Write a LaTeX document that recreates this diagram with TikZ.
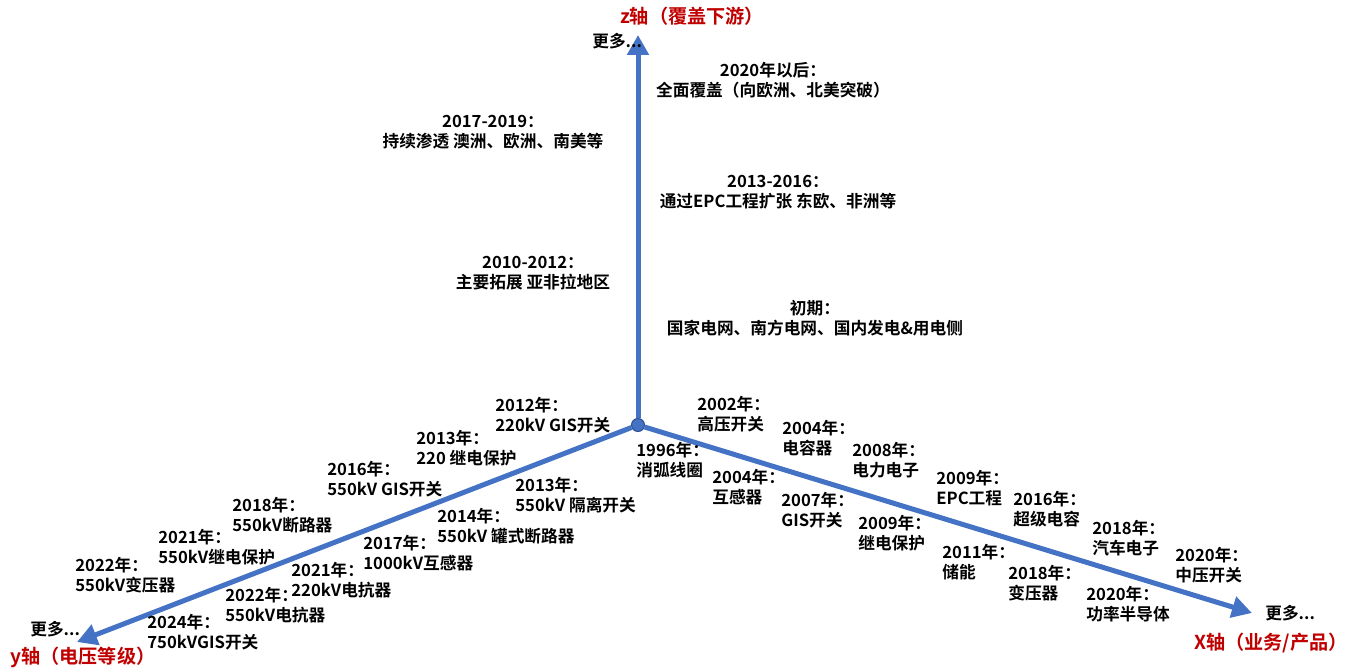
\documentclass[tikz,border=0pt]{standalone}
\usepackage{fontspec}
\setmainfont{Noto Sans CJK SC}[BoldFont={* Bold}]
\usepackage{xcolor}
\usepackage{tikz}
\usetikzlibrary{arrows.meta}
\definecolor{axisblue}{RGB}{68,114,196}
\definecolor{dotblue}{RGB}{47,82,143}
\definecolor{axisred}{RGB}{192,0,0}

\begin{document}
\begin{tikzpicture}[x=0.02cm, y=-0.02cm]
	\tikzstyle{axisline}=[draw=axisblue, line width=0.1cm, -{Triangle[length=0.4cm, width=0.42cm]}]
	\tikzstyle{lbl}=[font=\fontsize{9.5}{11.4}\selectfont\bfseries, align=left, anchor=west, inner sep=0pt]
	\tikzstyle{ctrlbl}=[lbl, align=center, anchor=center]
	\tikzstyle{axislbl}=[font=\fontsize{10.9}{12}\selectfont\bfseries, text=axisred, inner sep=0pt]

	\useasboundingbox (0,0) rectangle (1357,671);

	% axes
	\node[circle, minimum size=0.26cm, inner sep=0pt, fill=axisblue, draw=dotblue, line width=0.6pt] (o) at (638,425) {};
	\coordinate (zend) at (638,35);
	\coordinate (xend) at (1252,613);
	\coordinate (yend) at (77,642);
	\draw[axisline] (o) -- (zend);
	\draw[axisline] (o) -- (xend);
	\draw[axisline] (o) -- (yend);

	\node[axislbl] (zname) at (692,16) {z轴（覆盖下游）};
	\node[axislbl, anchor=west] (xname) at (1194,643) {X轴（业务/产品）};
	\node[axislbl, anchor=west] (yname) at (10,657) {y轴（电压等级）};
	\node[lbl] (zmore) at (592,41) {更多...};
	\node[lbl] (xmore) at (1265,613) {更多...};
	\node[lbl] (ymore) at (30,629) {更多...};

	% z axis: markets
	\foreach \n/\px/\py/\txt in {
		z1/773/80/{2020年以后：\\全面覆盖（向欧洲、北美突破）},
		z2/493/132/{2017-2019：\\持续渗透 澳洲、欧洲、南美等},
		z3/778/192/{2013-2016：\\通过EPC工程扩张 东欧、非洲等},
		z4/533/273/{2010-2012：\\主要拓展 亚非拉地区},
		z5/815/318/{初期：\\国家电网、南方电网、国内发电\&用电侧}}{
		\node[ctrlbl] (\n) at (\px,\py) {\txt};
	}

	% y axis: voltage levels
	\foreach \n/\px/\py/\txt in {
		ya1/495/415/{2012年：\\220kV GIS开关},
		ya2/416/448/{2013年：\\220 继电保护},
		ya3/327/479/{2016年：\\550kV GIS开关},
		ya4/232/515/{2018年：\\550kV断路器},
		ya5/158/547/{2021年：\\550kV继电保护},
		ya6/75/575/{2022年：\\550kV变压器},
		yb1/515/495/{2013年：\\550kV 隔离开关},
		yb2/437/526/{2014年：\\550kV 罐式断路器},
		yb3/363/553/{2017年：\\1000kV互感器},
		yb4/291/580/{2021年：\\220kV电抗器},
		yb5/225/605/{2022年：\\550kV电抗器},
		yb6/147/632/{2024年：\\750kVGIS开关}}{
		\node[lbl] (\n) at (\px,\py) {\txt};
	}

	% x axis: products
	\foreach \n/\px/\py/\txt in {
		xa1/697/414/{2002年：\\高压开关},
		xa2/782/438/{2004年：\\电容器},
		xa3/852/460/{2008年：\\电力电子},
		xa4/936/488/{2009年：\\EPC工程},
		xa5/1013/509/{2016年：\\超级电容},
		xa6/1092/538/{2018年：\\汽车电子},
		xa7/1175/565/{2020年：\\中压开关},
		xb1/636/460/{1996年：\\消弧线圈},
		xb2/712/487/{2004年：\\互感器},
		xb3/781/510/{2007年：\\GIS开关},
		xb4/858/533/{2009年：\\继电保护},
		xb5/942/562/{2011年：\\储能},
		xb6/1008/583/{2018年：\\变压器},
		xb7/1086/604/{2020年：\\功率半导体}}{
		\node[lbl] (\n) at (\px,\py) {\txt};
	}
\end{tikzpicture}
\end{document}
